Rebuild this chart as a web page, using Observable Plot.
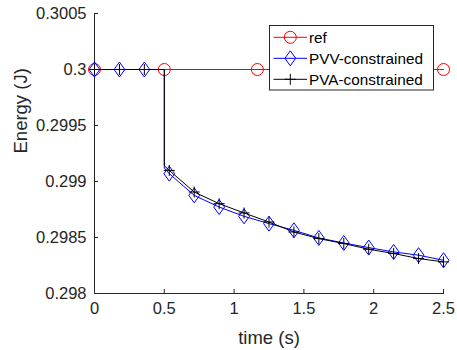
<!DOCTYPE html>
<html><head><meta charset="utf-8">
<script src="https://cdn.jsdelivr.net/npm/d3@7"></script>
<script src="https://cdn.jsdelivr.net/npm/@observablehq/plot@0.6"></script>
<style>body{margin:0;background:#fff}#chart{width:457px;height:350px}</style>
</head><body><div id="chart"></div>
<script>
// ---- data ----
const seriesNames = ["ref", "PVV-constrained", "PVA-constrained"];
const refTimes = [0, 0.5, 1.1667, 2.5];
const refEnergy = [0.3, 0.3, 0.3, 0.3];
const markerTimes = [0, 0.1786, 0.3571, 0.5357, 0.7143, 0.8929, 1.0714, 1.25, 1.4286, 1.6071, 1.7857, 1.9643, 2.1429, 2.3214, 2.5];
const pvvEnergy = [0.3, 0.3, 0.3, 0.29907, 0.298876, 0.298772, 0.298689, 0.298624, 0.298564, 0.298496, 0.298451, 0.29841, 0.298371, 0.298342, 0.298297];
const pvaEnergy = [0.3, 0.3, 0.3, 0.299099, 0.298906, 0.298802, 0.298719, 0.298638, 0.298549, 0.29849, 0.298446, 0.298395, 0.298357, 0.298312, 0.298282];
const dropTime = 0.5;
const pvvAfterDrop = 0.29912;
const pvaAfterDrop = 0.29914;
const xTicks = [0, 0.5, 1, 1.5, 2, 2.5];
const xTickLabels = ["0", "0.5", "1", "1.5", "2", "2.5"];
const yTicks = [0.298, 0.2985, 0.299, 0.2995, 0.3, 0.3005];
const yTickLabels = ["0.298", "0.2985", "0.299", "0.2995", "0.3", "0.3005"];
const colors = ["#ff0000", "#0000ff", "#000000"];

// ---- build tables ----
const refRows = refTimes.map((t, i) => ({t, e: refEnergy[i]}));
function lineRows(values, after) {
  const rows = [];
  markerTimes.forEach((t, i) => { if (t < dropTime) rows.push({t, e: values[i]}); });
  rows.push({t: dropTime, e: values[0]});
  rows.push({t: dropTime, e: after});
  markerTimes.forEach((t, i) => { if (t > dropTime) rows.push({t, e: values[i]}); });
  return rows;
}
const pvvLine = lineRows(pvvEnergy, pvvAfterDrop);
const pvaLine = lineRows(pvaEnergy, pvaAfterDrop);
const pvvMarks = markerTimes.map((t, i) => ({t, e: pvvEnergy[i]}));
const pvaMarks = markerTimes.map((t, i) => ({t, e: pvaEnergy[i]}));

// ---- symbols ----
const diamond = {draw(ctx, size) {
  const r = Math.sqrt(size / Math.PI), w = r * 0.72;
  ctx.moveTo(0, -r); ctx.lineTo(w, 0); ctx.lineTo(0, r); ctx.lineTo(-w, 0); ctx.closePath();
}};
const plus = {draw(ctx, size) {
  const r = Math.sqrt(size / Math.PI);
  ctx.moveTo(-r, 0); ctx.lineTo(r, 0); ctx.moveTo(0, -r); ctx.lineTo(0, r);
}};

const font = "'Liberation Sans', Arial, Helvetica, sans-serif";
const axisColor = "#262626";

const svg = Plot.plot({
  width: 457, height: 350,
  marginLeft: 94, marginRight: 14, marginTop: 13, marginBottom: 57,
  style: {fontFamily: font, fontSize: "16.5px", color: axisColor, background: "white", overflow: "visible"},
  x: {domain: [0, 2.5]},
  y: {domain: [0.298, 0.3005]},
  marks: [
    Plot.frame({anchor: "bottom", stroke: axisColor}),
    Plot.frame({anchor: "left", stroke: axisColor}),
    Plot.axisX({ticks: xTicks, tickFormat: d => xTickLabels[xTicks.indexOf(d)], tickSize: -4, tickPadding: 12.5,
      stroke: axisColor, label: null}),
    Plot.axisY({ticks: yTicks, tickFormat: d => yTickLabels[yTicks.indexOf(d)], tickSize: -4, tickPadding: 12,
      stroke: axisColor, label: null}),
    Plot.text(["time (s)"], {frameAnchor: "bottom", dy: 50, fontSize: 18.5, fill: axisColor}),
    Plot.text(["Energy (J)"], {frameAnchor: "left", dx: -73, rotate: -90, fontSize: 18.5, fill: axisColor}),
    Plot.line(refRows, {x: "t", y: "e", stroke: colors[0], strokeWidth: 1.2}),
    Plot.dot(refRows, {x: "t", y: "e", r: 6, stroke: colors[0], strokeWidth: 1, fill: "none"}),
    Plot.line(pvvLine, {x: "t", y: "e", stroke: colors[1], strokeWidth: 1}),
    Plot.dot(pvvMarks, {x: "t", y: "e", symbol: diamond, r: 7.5, stroke: colors[1], strokeWidth: 1, fill: "none"}),
    Plot.line(pvaLine, {x: "t", y: "e", stroke: colors[2], strokeWidth: 1}),
    Plot.dot(pvaMarks, {x: "t", y: "e", symbol: plus, r: 5.5, stroke: colors[2], strokeWidth: 1, fill: "none"})
  ]
});
document.getElementById("chart").appendChild(svg);

// ---- legend (inside the axes, top right) ----
const lg = d3.select(svg).append("g").attr("font-family", font).attr("font-size", "15.3px")
  .attr("text-anchor", "start");
lg.append("rect").attr("x", 269.5).attr("y", 25.5).attr("width", 164).attr("height", 64.5)
  .attr("fill", "white").attr("stroke", axisColor).attr("stroke-width", 1);
const syms = [d3.symbolCircle, diamond, plus];
const symSizes = [Math.PI * 36, Math.PI * 7.5 * 7.5, Math.PI * 5.5 * 5.5];
seriesNames.forEach((name, i) => {
  const y = 37.3 + i * 21;
  lg.append("line").attr("x1", 273.5).attr("x2", 307).attr("y1", y).attr("y2", y)
    .attr("stroke", colors[i]).attr("stroke-width", 1);
  lg.append("path").attr("d", d3.symbol(syms[i], symSizes[i])()).attr("transform", `translate(290.3,${y})`)
    .attr("fill", "none").attr("stroke", colors[i]).attr("stroke-width", 1);
  lg.append("text").attr("x", 309).attr("y", y).attr("dy", "0.35em").attr("fill", "#000")
    .attr("text-anchor", "start").text(name);
});
</script>
</body></html>
